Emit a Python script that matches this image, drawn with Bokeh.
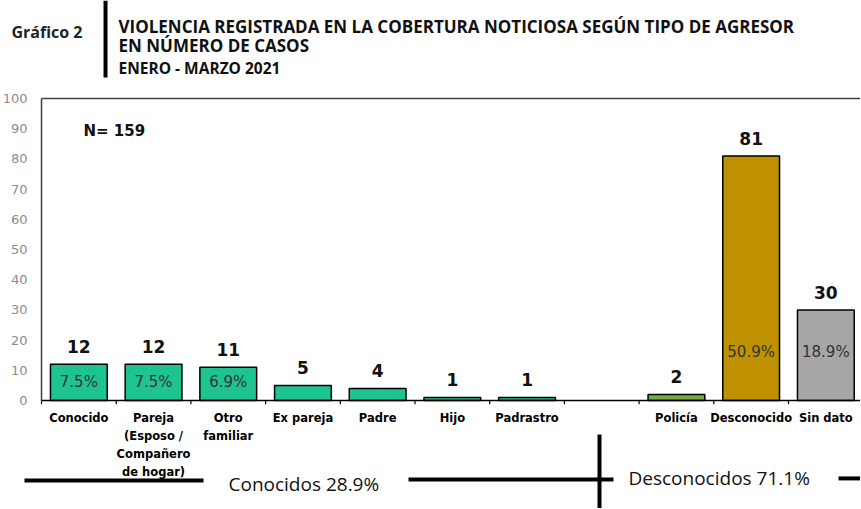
from bokeh.plotting import figure
from bokeh.models import ColumnDataSource, Range1d, FixedTicker, Label, Arrow
from bokeh.core.properties import value
from bokeh.embed import file_html
from bokeh.resources import INLINE

# ---------------- data ----------------
categories = ["Conocido", "Pareja\n(Esposo /\nCompañero\nde hogar)", "Otro\nfamiliar",
              "Ex pareja", "Padre", "Hijo", "Padrastro", " ",
              "Policía", "Desconocido", "Sin dato"]
cases = [12, 12, 11, 5, 4, 1, 1, None, 2, 81, 30]
pct_labels = ["7.5%", "7.5%", "6.9%", "", "", "", "", "", "", "50.9%", "18.9%"]
bar_colors = ["#1dc48f", "#1dc48f", "#1dc48f", "#1dc48f", "#1dc48f", "#1dc48f", "#1dc48f",
              None, "#70ad47", "#bf9000", "#a6a6a6"]
y_ticks = [0, 10, 20, 30, 40, 50, 60, 70, 80, 90, 100]
group_labels = ["Conocidos  28.9%", "Desconocidos 71.1%"]
header_label = "Gráfico 2"
title_lines = ["VIOLENCIA REGISTRADA EN LA COBERTURA NOTICIOSA SEGÚN TIPO DE AGRESOR",
               "EN NÚMERO DE CASOS",
               "ENERO - MARZO 2021"]

total = sum(v for v in cases if v is not None)
n = len(categories)
centers = [i + 0.5 for i in range(n)]

rows = [i for i, v in enumerate(cases) if v is not None]
src = ColumnDataSource(dict(
    x=[centers[i] for i in rows],
    val=[cases[i] for i in rows],
    vlab=[str(cases[i]) for i in rows],
    color=[bar_colors[i] for i in rows],
    pct=[pct_labels[i] for i in rows],
    pct_y=[6 if cases[i] < 20 else 16 for i in rows],
))

# ---------------- figure ----------------
p = figure(width=860, height=508,
           x_range=Range1d(-0.549, 10.964),
           y_range=Range1d(-35.76, 132.45),
           output_backend="svg", toolbar_location=None, title=None,
           min_border_left=0, min_border_right=0, min_border_top=0, min_border_bottom=0)
p.outline_line_color = None
p.xgrid.visible = False
p.ygrid.visible = False
p.background_fill_color = "white"
p.border_fill_color = "white"

# y axis (inside the frame, at the first category boundary)
p.yaxis.fixed_location = 0
p.yaxis.ticker = FixedTicker(ticks=y_ticks)
p.yaxis.bounds = (0, 100)
p.yaxis.axis_line_color = "#404040"
p.yaxis.axis_line_width = 1.5
p.yaxis.major_tick_in = 0
p.yaxis.major_tick_out = 0
p.yaxis.minor_tick_in = 0
p.yaxis.minor_tick_out = 0
p.yaxis.major_label_standoff = 14
p.yaxis.major_label_text_font = "DejaVu Sans"
p.yaxis.major_label_text_font_size = "13px"
p.yaxis.major_label_text_color = "#8c8c8c"

# x axis at y = 0, labels at the category centres
p.xaxis.fixed_location = 0
p.xaxis.ticker = FixedTicker(ticks=centers)
p.xaxis.major_label_overrides = {c: lab for c, lab in zip(centers, categories)}
p.xaxis.bounds = (0, n)
p.xaxis.axis_line_color = "black"
p.xaxis.axis_line_width = 1.5
p.xaxis.major_tick_in = 0
p.xaxis.major_tick_out = 0
p.xaxis.minor_tick_in = 0
p.xaxis.minor_tick_out = 0
p.xaxis.major_label_standoff = 10
p.xaxis.major_label_text_font = "DejaVu Sans"
p.xaxis.major_label_text_font_style = "bold"
p.xaxis.major_label_text_font_size = "11.5px"
p.xaxis.major_label_text_color = "black"
p.xaxis.major_label_text_line_height = 1.3

# frame top line and boundary ticks
p.segment(x0=[0], y0=[100], x1=[n], y1=[100], line_color="#404040", line_width=1.5)
p.segment(x0=list(range(n + 1)), y0=[0] * (n + 1), x1=list(range(n + 1)), y1=[-1.2] * (n + 1),
          line_color="black", line_width=1.2)

# bars
p.vbar(x="x", top="val", width=0.76, fill_color="color", line_color="black",
       line_width=1.5, source=src)
p.text(x="x", y="val", text="vlab", y_offset=-11, text_align="center", text_baseline="bottom",
       text_font=value("DejaVu Sans"), text_font_style="bold", text_font_size="17px",
       text_color="#111111", source=src)
p.text(x="x", y="pct_y", text="pct", text_align="center", text_baseline="middle",
       text_font=value("DejaVu Sans"), text_font_size="15px", text_color="#333333", source=src)

p.text(x=[0.562], y=[89.4], text=[f"N= {total}"], text_align="left", text_baseline="middle",
       text_font=value("DejaVu Sans"), text_font_style="bold", text_font_size="15px",
       text_color="#111111")

# header
p.add_layout(Label(x=-0.402, y=121.9, text=header_label, text_baseline="alphabetic",
                   text_font="Open Sans", text_font_style="bold", text_font_size="16px",
                   text_color="#222222"))
p.add_layout(Arrow(end=None, x_start=0.857, y_start=132.45, x_end=0.857, y_end=106.95,
                   line_color="black", line_width=4))
p.add_layout(Label(x=1.031, y=124.0, text=title_lines[0], text_baseline="alphabetic",
                   text_font="Open Sans", text_font_style="bold", text_font_size="17px",
                   text_color="#111111"))
p.add_layout(Label(x=1.031, y=117.6, text=title_lines[1], text_baseline="alphabetic",
                   text_font="Open Sans", text_font_style="bold", text_font_size="17px",
                   text_color="#111111"))
p.add_layout(Label(x=1.031, y=110.2, text=title_lines[2], text_baseline="alphabetic",
                   text_font="Open Sans", text_font_style="bold", text_font_size="15.5px",
                   text_color="#111111"))

# bottom grouping
p.add_layout(Arrow(end=None, x_start=-0.228, y_start=-26.5, x_end=2.169, y_end=-26.5,
                   line_color="black", line_width=4))
p.add_layout(Label(x=2.503, y=-27.8, text=group_labels[0], text_baseline="alphabetic",
                   text_font="Open Sans", text_font_size="19px", text_color="#111111"))
p.add_layout(Arrow(end=None, x_start=4.913, y_start=-26.16, x_end=7.657, y_end=-26.16,
                   line_color="black", line_width=4))
p.add_layout(Arrow(end=None, x_start=7.47, y_start=-11.26, x_end=7.47, y_end=-35.76,
                   line_color="black", line_width=4))
p.add_layout(Label(x=7.858, y=-25.8, text=group_labels[1], text_baseline="alphabetic",
                   text_font="Open Sans", text_font_size="19px", text_color="#111111"))
p.add_layout(Arrow(end=None, x_start=10.67, y_start=-25.8, x_end=10.964, y_end=-25.8,
                   line_color="black", line_width=4))

open("out.html", "w").write(file_html(p, INLINE))
